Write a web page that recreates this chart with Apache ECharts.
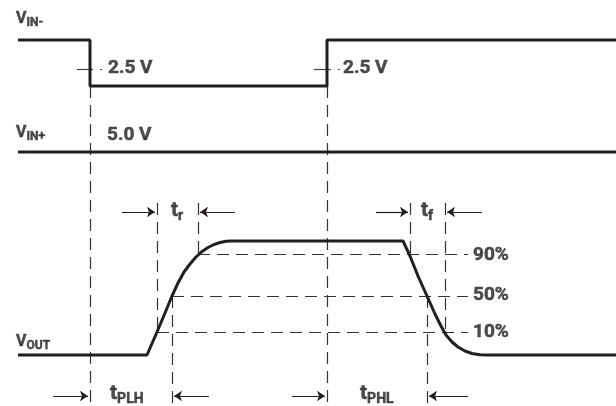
<!DOCTYPE html>
<html>
<head>
<meta charset="utf-8">
<script src="https://cdn.jsdelivr.net/npm/echarts@6/dist/echarts.min.js"></script>
<style>
  html, body { margin: 0; padding: 0; background: #fff; }
  #chart { width: 616px; height: 406px; }
</style>
</head>
<body>
<div id="chart"></div>
<script>
// waveforms (x = time, y = level, in drawing units)
const vinMinus = [[18, 40], [90, 40], [90, 86], [327, 86], [327, 40], [616, 40]];
const vinPlus = [[18, 152], [616, 152]];
const vOut = [
  [18, 355], [147, 355], [157, 332], [165, 313], [172, 296], [178, 283], [184, 272],
  [190, 264], [196, 257], [202, 251.5], [208, 247.5], [214, 244.5], [220, 242.5],
  [226, 241.3], [232, 241], [403, 241], [410, 256], [418, 276], [427, 296],
  [435, 314], [441, 326], [446, 335], [452, 342], [458, 347], [465, 351],
  [472, 353.5], [480, 354.8], [488, 355], [616, 355]
];

// dashed guides: vertical [x, y1, y2], horizontal [y, x1, x2]
const guideV = [[90, 86, 404], [327, 86, 404], [157, 203, 332], [198, 203, 254],
  [172, 296, 404], [410, 203, 254], [445, 203, 332], [427, 296, 404]];
const guideH = [[254, 198, 468], [296, 172, 468], [332, 157, 468]];

// arrows [fromX, toX, y]
const arrows = [[122, 155, 212], [235, 200, 212], [376, 408, 212], [482, 447, 212],
  [53, 88, 396], [209, 174, 396], [292, 325, 396], [468, 429, 396]];

// small 2.5 V markers [x1, x2, y]
const ticks = [[77, 93, 69], [100, 102, 69], [314, 331, 69], [338, 340, 69]];

// text labels [x, y, text]
const labels = [
  [16, 19, '{v|V}{s|IN-}'],
  [16, 133, '{v|V}{s|IN+}'],
  [16, 342, '{v|V}{s|OUT}'],
  [108, 68, '{b|2.5 V}'],
  [343, 68, '{b|2.5 V}'],
  [107, 135, '{b|5.0 V}'],
  [171, 211, '{t|t}{ts|r}'],
  [421, 211, '{t|t}{ts|f}'],
  [110, 394, '{t|t}{ts|PLH}'],
  [360, 394, '{t|t}{ts|PHL}'],
  [473, 255, '{b|90%}'],
  [473, 295, '{b|50%}'],
  [473, 332, '{b|10%}']
];

const ink = '#231f20';
const font = 'Roboto';

const myChart = echarts.init(document.getElementById('chart'));

const segs = [];
guideV.forEach(g => segs.push({ coords: [[g[0], g[1]], [g[0], g[2]]] }));
guideH.forEach(g => segs.push({ coords: [[g[1], g[0]], [g[2], g[0]]] }));

const txt = (size, sub) => ({
  fontFamily: font, fontWeight: 700, fontSize: size, color: ink,
  textBorderWidth: 0.5, textBorderColor: ink,
  verticalAlign: 'bottom', padding: sub ? [0, 0, -2, 0] : 0
});

myChart.setOption({
  animation: false,
  backgroundColor: '#fff',
  grid: { left: 0, right: 0, top: 0, bottom: 0 },
  xAxis: { type: 'value', min: 0, max: 616, show: false },
  yAxis: { type: 'value', min: 0, max: 406, inverse: true, show: false },
  series: [
    {
      type: 'lines', coordinateSystem: 'cartesian2d', silent: true,
      lineStyle: { color: '#333', width: 1.2, type: [12, 7], opacity: 1 },
      data: segs
    },
    {
      type: 'lines', coordinateSystem: 'cartesian2d', silent: true,
      symbol: ['none', 'arrow'], symbolSize: 8,
      lineStyle: { color: ink, width: 1.2, opacity: 1 },
      data: arrows.map(a => ({ coords: [[a[0], a[2]], [a[1], a[2]]] }))
    },
    {
      type: 'lines', coordinateSystem: 'cartesian2d', silent: true,
      lineStyle: { color: '#444', width: 1.2, opacity: 1 },
      data: ticks.map(t => ({ coords: [[t[0], t[2]], [t[1], t[2]]] }))
    },
    { type: 'line', data: vinMinus, symbol: 'none', lineStyle: { color: ink, width: 3 } },
    { type: 'line', data: vinPlus, symbol: 'none', lineStyle: { color: ink, width: 3 } },
    { type: 'line', data: vOut, symbol: 'none', lineStyle: { color: ink, width: 3 } },
    {
      type: 'scatter', symbolSize: 0, silent: true,
      itemStyle: { color: ink },
      data: labels.map(l => ({ value: [l[0], l[1]], text: l[2] })),
      label: {
        show: true, position: 'right', distance: 0,
        color: ink, fontFamily: font, fontWeight: 700,
        textBorderWidth: 0.5, textBorderColor: ink,
        formatter: p => p.data.text,
        rich: {
          v: txt(16, false),
          s: txt(12, true),
          b: txt(19, false),
          t: txt(21, false),
          ts: txt(14, true)
        }
      }
    }
  ]
});
</script>
</body>
</html>
